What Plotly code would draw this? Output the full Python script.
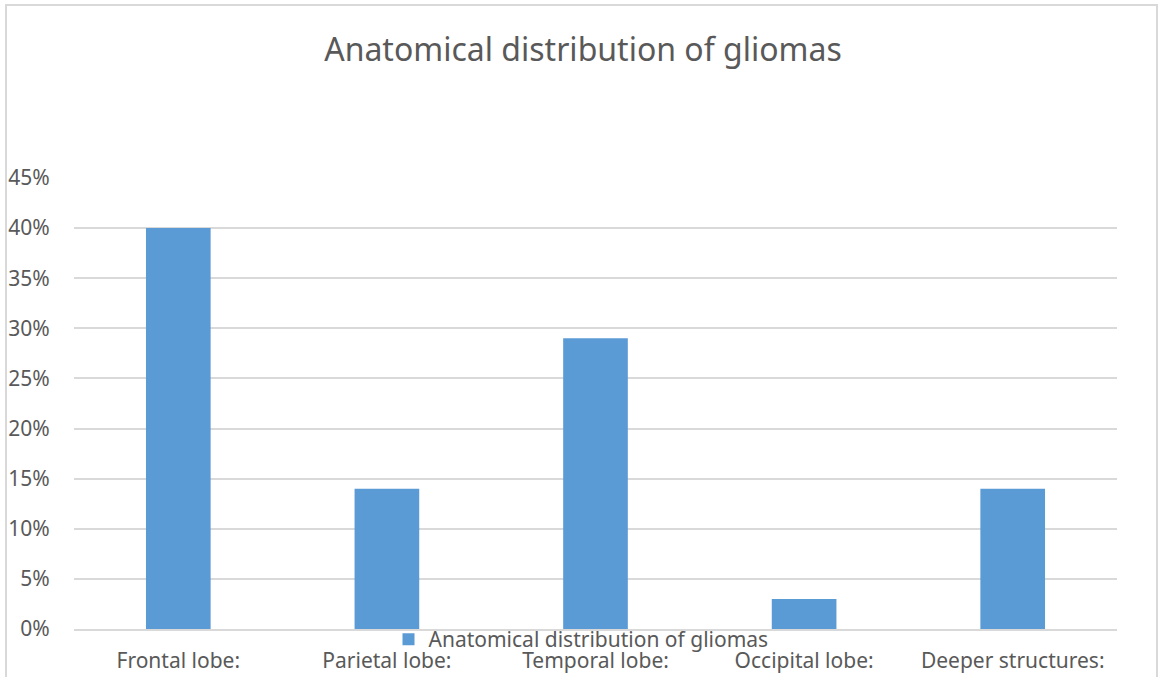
import plotly.graph_objects as go

# Share of gliomas by anatomical site
regions = ["Frontal lobe:", "Parietal lobe:", "Temporal lobe:", "Occipital lobe:", "Deeper structures:"]
shares = [0.40, 0.14, 0.29, 0.03, 0.14]
series_name = "Anatomical distribution of gliomas"
y_ticks = [0, 0.05, 0.10, 0.15, 0.20, 0.25, 0.30, 0.35, 0.40, 0.45]

W, H = 1159, 677
L, R, T, B = 74, 42, 178, 48
pw, ph = W - L - R, H - T - B

def px_x(x):
    return (x - L) / pw

def px_y(y):
    return (H - B - y) / ph

FONT = "Segoe UI, Noto Sans, DejaVu Sans, sans-serif"
GREY = "#595959"

fig = go.Figure(
    go.Bar(
        x=regions,
        y=shares,
        name=series_name,
        marker=dict(color="#5B9BD5", line=dict(width=0)),
        width=0.31,
        showlegend=True,
    )
)

fig.update_layout(
    width=W,
    height=H,
    margin=dict(l=L, r=R, t=T, b=B, pad=0, autoexpand=False),
    paper_bgcolor="white",
    plot_bgcolor="white",
    font=dict(family=FONT, color=GREY, size=21),
    title=dict(
        text=series_name,
        x=583 / W,
        xref="container",
        xanchor="center",
        y=1 - 50 / H,
        yanchor="middle",
        font=dict(size=32, color=GREY, family=FONT),
    ),
    showlegend=True,
    legend=dict(
        orientation="h",
        x=px_x(581),
        xanchor="center",
        y=px_y(619),
        yanchor="top",
        font=dict(size=21, color=GREY, family=FONT),
        bgcolor="rgba(0,0,0,0)",
        itemwidth=30,
    ),
    xaxis=dict(
        type="category",
        showgrid=False,
        showline=True,
        linecolor="#D9D9D9",
        linewidth=1.5,
        ticks="outside",
        ticklen=12,
        tickcolor="rgba(0,0,0,0)",
        tickfont=dict(size=21, color=GREY),
        zeroline=False,
        automargin=False,
    ),
    yaxis=dict(
        range=[0, 0.45],
        tickvals=y_ticks,
        tickformat=".0%",
        showgrid=True,
        gridcolor="#D9D9D9",
        gridwidth=1.5,
        zeroline=False,
        showline=False,
        ticks="outside",
        ticklen=19,
        tickcolor="rgba(0,0,0,0)",
        tickfont=dict(size=21, color=GREY),
        automargin=False,
    ),
    shapes=[
        dict(
            type="rect",
            xref="paper",
            yref="paper",
            x0=px_x(6),
            x1=px_x(1157),
            y0=px_y(700),
            y1=px_y(5),
            line=dict(color="#D9D9D9", width=2),
            fillcolor="rgba(0,0,0,0)",
            layer="below",
        )
    ],
)

fig.write_html("out.html")
